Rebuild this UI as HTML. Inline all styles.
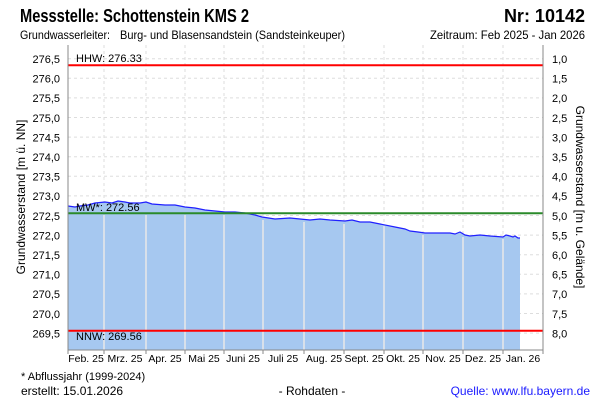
<!DOCTYPE html>
<html><head><style>
body{margin:0;background:#fff;}
svg{display:block;font-family:"Liberation Sans",sans-serif;}
</style></head><body>
<svg width="600" height="400" viewBox="0 0 600 400">
<text x="20" y="22" font-size="18" font-weight="bold" textLength="229" lengthAdjust="spacingAndGlyphs">Messstelle: Schottenstein KMS 2</text>
<text x="585" y="22" font-size="18" font-weight="bold" text-anchor="end">Nr: 10142</text>
<text x="20" y="39" font-size="12" textLength="90" lengthAdjust="spacingAndGlyphs">Grundwasserleiter:</text>
<text x="120" y="39" font-size="12" textLength="225" lengthAdjust="spacingAndGlyphs">Burg- und Blasensandstein (Sandsteinkeuper)</text>
<text x="430" y="39" font-size="12" textLength="155" lengthAdjust="spacingAndGlyphs">Zeitraum: Feb 2025 - Jan 2026</text>
<g stroke="#ddd" stroke-dasharray="3,3" stroke-width="1">
<line x1="68" x2="543" y1="58.7" y2="58.7"/><line x1="68" x2="543" y1="78.3" y2="78.3"/><line x1="68" x2="543" y1="97.9" y2="97.9"/><line x1="68" x2="543" y1="117.5" y2="117.5"/><line x1="68" x2="543" y1="137.1" y2="137.1"/><line x1="68" x2="543" y1="156.7" y2="156.7"/><line x1="68" x2="543" y1="176.3" y2="176.3"/><line x1="68" x2="543" y1="195.9" y2="195.9"/><line x1="68" x2="543" y1="215.5" y2="215.5"/><line x1="68" x2="543" y1="235.1" y2="235.1"/><line x1="68" x2="543" y1="254.7" y2="254.7"/><line x1="68" x2="543" y1="274.3" y2="274.3"/><line x1="68" x2="543" y1="293.9" y2="293.9"/><line x1="68" x2="543" y1="313.5" y2="313.5"/><line x1="68" x2="543" y1="333.1" y2="333.1"/>
<line x1="104" x2="104" y1="45" y2="350"/><line x1="146" x2="146" y1="45" y2="350"/><line x1="185" x2="185" y1="45" y2="350"/><line x1="224" x2="224" y1="45" y2="350"/><line x1="263" x2="263" y1="45" y2="350"/><line x1="304" x2="304" y1="45" y2="350"/><line x1="344" x2="344" y1="45" y2="350"/><line x1="384" x2="384" y1="45" y2="350"/><line x1="423" x2="423" y1="45" y2="350"/><line x1="463" x2="463" y1="45" y2="350"/><line x1="503" x2="503" y1="45" y2="350"/>
</g>
<path d="M68,206 L75,207 L80,206 L88,205 L95,203 L105,202 L112,203 L118,201 L125,202 L130,203 L140,203 L146,202 L152,204 L165,205 L175,205 L185,207 L195,208 L205,210 L215,211 L225,212 L235,212 L245,213 L255,215 L262,217 L275,219 L290,218 L300,219 L310,220 L320,219 L330,220 L345,221 L352,220 L360,222 L370,222 L380,224 L395,227 L405,229 L410,231 L418,232 L425,233 L440,233 L450,233 L455,234 L460,232 L465,235 L470,236 L480,235 L490,236 L503,237 L506,235 L510,236 L513,237 L515,236 L518,238 L520,238 L520,350 L68,350 Z" fill="#a6c8f0"/>
<g stroke="#e8e8e8" stroke-width="1.5">
<line x1="104" x2="104" y1="215" y2="350"/><line x1="146" x2="146" y1="215" y2="350"/><line x1="185" x2="185" y1="215" y2="350"/><line x1="224" x2="224" y1="215" y2="350"/><line x1="263" x2="263" y1="220" y2="350"/><line x1="304" x2="304" y1="222" y2="350"/><line x1="344" x2="344" y1="224" y2="350"/><line x1="384" x2="384" y1="226" y2="350"/><line x1="423" x2="423" y1="235" y2="350"/><line x1="463" x2="463" y1="237" y2="350"/><line x1="503" x2="503" y1="239" y2="350"/>
</g>
<path d="M68,206 L75,207 L80,206 L88,205 L95,203 L105,202 L112,203 L118,201 L125,202 L130,203 L140,203 L146,202 L152,204 L165,205 L175,205 L185,207 L195,208 L205,210 L215,211 L225,212 L235,212 L245,213 L255,215 L262,217 L275,219 L290,218 L300,219 L310,220 L320,219 L330,220 L345,221 L352,220 L360,222 L370,222 L380,224 L395,227 L405,229 L410,231 L418,232 L425,233 L440,233 L450,233 L455,234 L460,232 L465,235 L470,236 L480,235 L490,236 L503,237 L506,235 L510,236 L513,237 L515,236 L518,238 L520,238" fill="none" stroke="#2020ff" stroke-width="1.2"/>
<line x1="68" x2="543" y1="65.3" y2="65.3" stroke="#f00" stroke-width="2"/>
<line x1="68" x2="543" y1="330.7" y2="330.7" stroke="#f00" stroke-width="2"/>
<line x1="68" x2="543" y1="213.3" y2="213.3" stroke="#2a8a2a" stroke-width="2"/>
<g font-size="11">
<text x="76" y="62">HHW: 276.33</text>
<text x="76" y="211">MW*: 272.56</text>
<text x="76" y="340">NNW: 269.56</text>
</g>
<g stroke="#888" stroke-width="1" fill="none">
<line x1="68" x2="68" y1="45" y2="350"/><line x1="543" x2="543" y1="45" y2="350"/><line x1="68" x2="543" y1="350" y2="350"/>
</g>
<g font-size="11" text-anchor="end">
<text x="60" y="63">276,5</text><text x="60" y="82.6">276,0</text><text x="60" y="102.2">275,5</text><text x="60" y="121.8">275,0</text><text x="60" y="141.4">274,5</text><text x="60" y="161">274,0</text><text x="60" y="180.6">273,5</text><text x="60" y="200.2">273,0</text><text x="60" y="219.8">272,5</text><text x="60" y="239.4">272,0</text><text x="60" y="259">271,5</text><text x="60" y="278.6">271,0</text><text x="60" y="298.2">270,5</text><text x="60" y="317.8">270,0</text><text x="60" y="337.4">269,5</text>
</g>
<g font-size="11">
<text x="552" y="63">1,0</text><text x="552" y="82.6">1,5</text><text x="552" y="102.2">2,0</text><text x="552" y="121.8">2,5</text><text x="552" y="141.4">3,0</text><text x="552" y="161">3,5</text><text x="552" y="180.6">4,0</text><text x="552" y="200.2">4,5</text><text x="552" y="219.8">5,0</text><text x="552" y="239.4">5,5</text><text x="552" y="259">6,0</text><text x="552" y="278.6">6,5</text><text x="552" y="298.2">7,0</text><text x="552" y="317.8">7,5</text><text x="552" y="337.4">8,0</text>
</g>
<g font-size="10.5" text-anchor="middle">
<text x="86" y="362">Feb. 25</text><text x="125" y="362">Mrz. 25</text><text x="165" y="362">Apr. 25</text><text x="204" y="362">Mai 25</text><text x="243" y="362">Juni 25</text><text x="283" y="362">Juli 25</text><text x="324" y="362">Aug. 25</text><text x="364" y="362">Sept. 25</text><text x="403" y="362">Okt. 25</text><text x="443" y="362">Nov. 25</text><text x="483" y="362">Dez. 25</text><text x="523" y="362">Jan. 26</text>
</g>
<g stroke="#888"><line x1="68" x2="68" y1="350" y2="354"/><line x1="104" x2="104" y1="350" y2="354"/><line x1="146" x2="146" y1="350" y2="354"/><line x1="185" x2="185" y1="350" y2="354"/><line x1="224" x2="224" y1="350" y2="354"/><line x1="263" x2="263" y1="350" y2="354"/><line x1="304" x2="304" y1="350" y2="354"/><line x1="344" x2="344" y1="350" y2="354"/><line x1="384" x2="384" y1="350" y2="354"/><line x1="423" x2="423" y1="350" y2="354"/><line x1="463" x2="463" y1="350" y2="354"/><line x1="503" x2="503" y1="350" y2="354"/><line x1="543" x2="543" y1="350" y2="354"/></g>
<text transform="translate(25,197) rotate(-90)" font-size="12" text-anchor="middle">Grundwasserstand [m ü. NN]</text>
<text transform="translate(576,197) rotate(90)" font-size="12" text-anchor="middle">Grundwasserstand [m u. Gelände]</text>
<text x="21" y="380" font-size="11">* Abflussjahr (1999-2024)</text>
<text x="21" y="395" font-size="12">erstellt:  15.01.2026</text>
<text x="312" y="395" font-size="12" text-anchor="middle">- Rohdaten -</text>
<text x="590" y="395" font-size="12" text-anchor="end" fill="#1a1aff">Quelle: www.lfu.bayern.de</text>
</svg>
</body></html>
